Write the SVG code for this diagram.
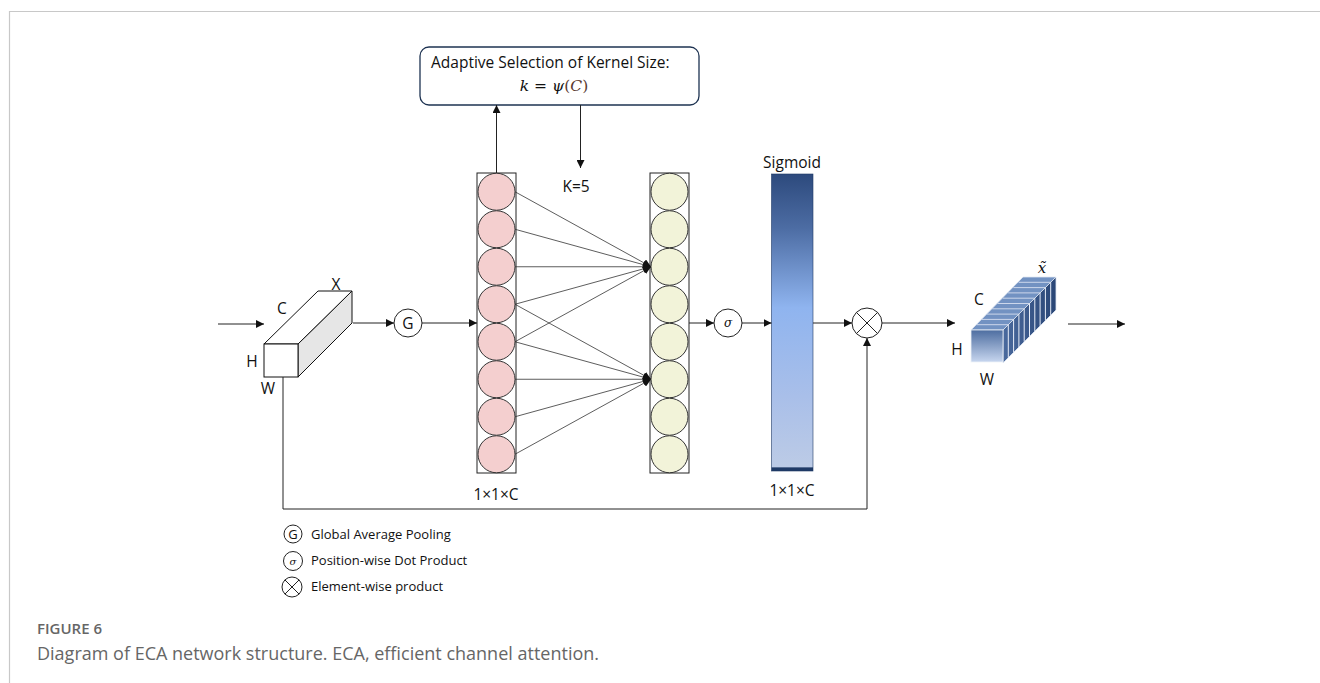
<svg xmlns="http://www.w3.org/2000/svg" width="1320" height="683" viewBox="0 0 1320 683">
<defs>
<style>
.t{font-family:"Open Sans","Noto Sans",sans-serif;font-size:15.5px;fill:#111}
.lg{font-family:"Open Sans","Noto Sans",sans-serif;font-size:13px;fill:#111}
.m{font-family:"DejaVu Serif","Liberation Serif",serif;font-style:italic;fill:#111}
.ln{stroke:#222;stroke-width:1;fill:none}
.cl{stroke:#333;stroke-width:0.8;fill:none}
.pk{fill:#f4cfcf;stroke:#333;stroke-width:1}
.yl{fill:#f2f3d9;stroke:#333;stroke-width:1}
.op{fill:#fff;stroke:#222;stroke-width:1}
</style>
<marker id="ah" viewBox="0 0 10 10" refX="10" refY="5" markerWidth="8" markerHeight="8" markerUnits="userSpaceOnUse" orient="auto">
<path d="M0,0 L10,5 L0,10 z" fill="#111"/>
</marker>
<linearGradient id="sg" x1="0" y1="0" x2="0" y2="1">
<stop offset="0" stop-color="#2d4a7d"/>
<stop offset="0.18" stop-color="#4c6ca3"/>
<stop offset="0.45" stop-color="#8fb4ef"/>
<stop offset="0.75" stop-color="#a9bfe9"/>
<stop offset="0.985" stop-color="#bccbe6"/>
<stop offset="0.99" stop-color="#1f3a66"/>
<stop offset="1" stop-color="#1f3a66"/>
</linearGradient>
<linearGradient id="ff" x1="0" y1="0" x2="0" y2="1">
<stop offset="0" stop-color="#4d6da0"/>
<stop offset="1" stop-color="#c7d6ef"/>
</linearGradient>
<linearGradient id="rf" x1="0" y1="0" x2="1" y2="0">
<stop offset="0" stop-color="#4a6a9e"/>
<stop offset="1" stop-color="#2a4676"/>
</linearGradient>
</defs>
<rect width="1320" height="683" fill="#fff"/>
<path d="M9.5,683 V11.5 H1320" stroke="#c8c8c8" stroke-width="1.2" fill="none"/>

<g id="input-cube">
<polygon points="298,344 352,291 352,323 298,377" fill="#e6e6e6" stroke="#111" stroke-width="1"/>
<polygon points="264,344 318,291 352,291 298,344" fill="#fff" stroke="#111" stroke-width="1"/>
<rect x="264" y="344" width="34" height="33" fill="#fff" stroke="#111" stroke-width="1"/>
<text class="t" x="336" y="290" text-anchor="middle">X</text>
<text class="t" x="282" y="314" text-anchor="middle">C</text>
<text class="t" x="252" y="367" text-anchor="middle">H</text>
<text class="t" x="268" y="394" text-anchor="middle">W</text>
</g>

<g id="kernel-box">
<rect x="420" y="47" width="279" height="58" rx="9" fill="#fff" stroke="#1e3352" stroke-width="1.3"/>
<text class="t" x="431" y="68">Adaptive Selection of Kernel Size:</text>
<text class="m" x="554" y="91" font-size="15.5" text-anchor="middle">k <tspan font-style="normal">=</tspan> ψ<tspan font-style="normal" fill="#5a3a30">(</tspan><tspan fill="#5a3a30">C</tspan><tspan font-style="normal" fill="#5a3a30">)</tspan></text>
</g>

<g id="pool-G">
<circle class="op" cx="408" cy="323" r="14"/>
<text class="t" x="408" y="328.5" text-anchor="middle" font-size="14">G</text>
</g>

<g id="pink-column">
<rect x="477" y="173" width="39" height="300" fill="#fff" stroke="#222" stroke-width="1"/>
<circle class="pk" cx="496.5" cy="191.75" r="18.5"/>
<circle class="pk" cx="496.5" cy="229.25" r="18.5"/>
<circle class="pk" cx="496.5" cy="266.75" r="18.5"/>
<circle class="pk" cx="496.5" cy="304.25" r="18.5"/>
<circle class="pk" cx="496.5" cy="341.75" r="18.5"/>
<circle class="pk" cx="496.5" cy="379.25" r="18.5"/>
<circle class="pk" cx="496.5" cy="416.75" r="18.5"/>
<circle class="pk" cx="496.5" cy="454.25" r="18.5"/>
<text class="t" x="496" y="500" text-anchor="middle" font-size="14.5">1×1×C</text>
</g>

<g id="yellow-column">
<rect x="650" y="173" width="39" height="300" fill="#fff" stroke="#222" stroke-width="1"/>
<circle class="yl" cx="669.5" cy="191.75" r="18.5"/>
<circle class="yl" cx="669.5" cy="229.25" r="18.5"/>
<circle class="yl" cx="669.5" cy="266.75" r="18.5"/>
<circle class="yl" cx="669.5" cy="304.25" r="18.5"/>
<circle class="yl" cx="669.5" cy="341.75" r="18.5"/>
<circle class="yl" cx="669.5" cy="379.25" r="18.5"/>
<circle class="yl" cx="669.5" cy="416.75" r="18.5"/>
<circle class="yl" cx="669.5" cy="454.25" r="18.5"/>
</g>
<text class="t" x="576" y="192" text-anchor="middle" font-size="14.5">K=5</text>

<g id="sigma">
<circle class="op" cx="728" cy="323" r="14"/>
<text class="m" x="728" y="327" font-size="12" text-anchor="middle">σ</text>
</g>

<g id="sigmoid-bar">
<rect x="771.5" y="174" width="41.5" height="297" fill="url(#sg)" stroke="#1f3a66" stroke-width="0.6"/>
<text class="t" x="792" y="168" text-anchor="middle" font-size="15">Sigmoid</text>
<text class="t" x="792" y="496" text-anchor="middle" font-size="14.5">1×1×C</text>
</g>

<g id="product">
<circle class="op" cx="867" cy="323" r="15"/>
<path d="M856.4,312.4 L877.6,333.6 M877.6,312.4 L856.4,333.6" class="ln"/>
</g>

<g id="output-cube">
<polygon points="971,330 1003,330 1056,277 1023,277" fill="#7292c2" stroke="#dfe7f3" stroke-width="0.8"/>
<path d="M976.3,324.7 H1008.3 M981.6,319.4 H1013.6 M986.9,314.1 H1018.9 M992.2,308.8 H1024.2 M997.5,303.5 H1029.5 M1002.8,298.2 H1034.8 M1008.1,292.9 H1040.1 M1013.4,287.6 H1045.4 M1018.7,282.3 H1050.7" stroke="#d6dfef" stroke-width="0.9"/>
<polygon points="1003,330 1056,277 1056,310 1003,363" fill="url(#rf)" stroke="#dfe7f3" stroke-width="0.8"/>
<path d="M1008.3,324.7 V357.7 M1013.6,319.4 V352.4 M1018.9,314.1 V347.1 M1024.2,308.8 V341.8 M1029.5,303.5 V336.5 M1034.8,298.2 V331.2 M1040.1,292.9 V325.9 M1045.4,287.6 V320.6 M1050.7,282.3 V315.3" stroke="#e8eef8" stroke-width="1"/>
<rect x="971" y="330" width="32" height="32" fill="url(#ff)" stroke="#eef2f8" stroke-width="0.8"/>
<text class="m" x="1042" y="273" font-size="15" text-anchor="middle">x̃</text>
<text class="t" x="979" y="305" text-anchor="middle">C</text>
<text class="t" x="957" y="355" text-anchor="middle">H</text>
<text class="t" x="987" y="385" text-anchor="middle">W</text>
</g>

<g id="connectors">
<line class="ln" x1="218" y1="324" x2="264" y2="324" marker-end="url(#ah)"/>
<line class="ln" x1="353" y1="323" x2="394" y2="323" marker-end="url(#ah)"/>
<line class="ln" x1="422" y1="323" x2="477" y2="323" marker-end="url(#ah)"/>
<line class="ln" x1="496.5" y1="173" x2="496.5" y2="105" marker-end="url(#ah)"/>
<line class="ln" x1="580.5" y1="105" x2="580.5" y2="168" marker-end="url(#ah)"/>
<line class="cl" x1="515" y1="191.75" x2="651" y2="266.75" marker-end="url(#ah)"/>
<line class="cl" x1="515" y1="229.25" x2="651" y2="266.75" marker-end="url(#ah)"/>
<line class="cl" x1="515" y1="266.75" x2="651" y2="266.75" marker-end="url(#ah)"/>
<line class="cl" x1="515" y1="304.25" x2="651" y2="266.75" marker-end="url(#ah)"/>
<line class="cl" x1="515" y1="341.75" x2="651" y2="266.75" marker-end="url(#ah)"/>
<line class="cl" x1="515" y1="304.25" x2="651" y2="379.25" marker-end="url(#ah)"/>
<line class="cl" x1="515" y1="341.75" x2="651" y2="379.25" marker-end="url(#ah)"/>
<line class="cl" x1="515" y1="379.25" x2="651" y2="379.25" marker-end="url(#ah)"/>
<line class="cl" x1="515" y1="416.75" x2="651" y2="379.25" marker-end="url(#ah)"/>
<line class="cl" x1="515" y1="454.25" x2="651" y2="379.25" marker-end="url(#ah)"/>
<line class="ln" x1="689" y1="323" x2="714" y2="323" marker-end="url(#ah)"/>
<line class="ln" x1="742" y1="323" x2="771.5" y2="323" marker-end="url(#ah)"/>
<line class="ln" x1="813" y1="323" x2="852" y2="323" marker-end="url(#ah)"/>
<line class="ln" x1="882" y1="323" x2="955" y2="323" marker-end="url(#ah)"/>
<line class="ln" x1="1068" y1="324" x2="1125" y2="324" marker-end="url(#ah)"/>
<path class="ln" d="M283,377 V509 H867 V338" stroke="#555" marker-end="url(#ah)"/>
</g>

<g id="legend">
<circle class="op" cx="293" cy="534" r="9"/>
<text class="lg" x="293" y="538.5" text-anchor="middle" font-size="12">G</text>
<text class="lg" x="311" y="538.5">Global Average Pooling</text>
<circle class="op" cx="293" cy="561" r="9.5"/>
<text class="m" x="293" y="564.5" text-anchor="middle" font-size="10">σ</text>
<text class="lg" x="311" y="565">Position-wise Dot Product</text>
<circle class="op" cx="292" cy="587" r="10"/>
<path d="M284.9,579.9 L299.1,594.1 M299.1,579.9 L284.9,594.1" class="ln"/>
<text class="lg" x="311" y="591">Element-wise product</text>
</g>

<g id="caption">
<text x="37" y="634" font-family="'Open Sans','Noto Sans',sans-serif" font-size="15" font-weight="600" fill="#666">FIGURE 6</text>
<text x="37" y="660" font-family="'Open Sans','Noto Sans',sans-serif" font-size="18" fill="#666">Diagram of ECA network structure. ECA, efficient channel attention.</text>
</g>
</svg>
